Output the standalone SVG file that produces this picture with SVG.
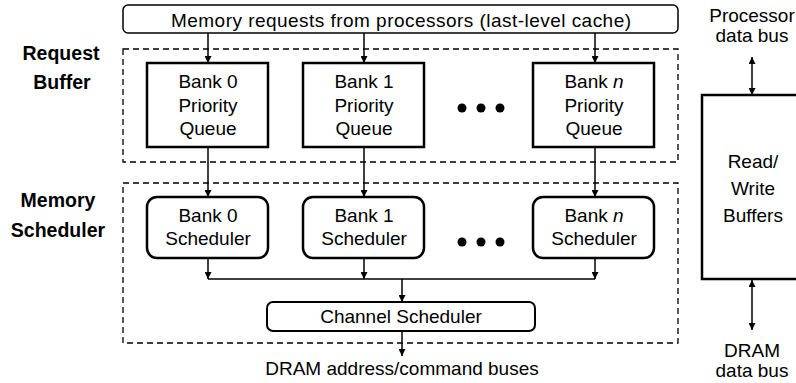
<svg xmlns="http://www.w3.org/2000/svg" width="796" height="383" viewBox="0 0 796 383">
<defs>
<marker id="ah" viewBox="0 0 10 10" refX="10" refY="5" markerWidth="7" markerHeight="7" orient="auto-start-reverse" markerUnits="userSpaceOnUse"><path d="M0,0 L10,5 L0,10 Z" fill="#000"/></marker>
<style>
text{font-family:"Liberation Sans",Arial,sans-serif;font-size:19px;fill:#000;text-anchor:middle}
.b{font-weight:bold;font-size:19.5px}
.dash{fill:none;stroke:#000;stroke-width:1.3;stroke-dasharray:6 4}
.box{fill:#fff;stroke:#000;stroke-width:2.5}
.thin{fill:#fff;stroke:#000;stroke-width:1.5}
.c{fill:none;stroke:#000;stroke-width:1.5}
.ca{fill:none;stroke:#000;stroke-width:1.5;marker-end:url(#ah)}
.cb{fill:none;stroke:#000;stroke-width:1.5;marker-end:url(#ah);marker-start:url(#ah)}
</style>
</defs>
<g id="labels">
<text class="b" x="61" y="60">Request</text>
<text class="b" x="62" y="89">Buffer</text>
<text class="b" x="58" y="207">Memory</text>
<text class="b" x="58" y="237">Scheduler</text>
</g>
<g id="request-buffer"><rect class="dash" x="123" y="49" width="555" height="113"/></g>
<g id="memory-scheduler"><rect class="dash" x="123" y="183" width="555" height="160"/></g>
<g id="connectors">
<path class="ca" d="M208,33 V63"/>
<path class="ca" d="M364,33 V63"/>
<path class="ca" d="M595,33 V63"/>
<path class="ca" d="M208,147 V197"/>
<path class="ca" d="M364,147 V197"/>
<path class="ca" d="M595,147 V197"/>
<path class="ca" d="M208,258 V279"/>
<path class="ca" d="M364,258 V279"/>
<path class="ca" d="M595,258 V279"/>
<path class="c" d="M208,279 H595"/>
<path class="ca" d="M402,279 V302"/>
<path class="ca" d="M402,331 V356"/>
<path class="cb" d="M752,57 V95"/>
<path class="cb" d="M752,280 V330"/>
</g>
<g id="top"><rect class="thin" x="123" y="5" width="555" height="28" rx="5"/><text x="401" y="27" textLength="460" lengthAdjust="spacing">Memory requests from processors (last-level cache)</text></g>
<g id="pq0"><rect class="box" x="147" y="63" width="121" height="84"/><text x="208" y="88">Bank 0</text><text x="208" y="112">Priority</text><text x="208" y="135">Queue</text></g>
<g id="pq1"><rect class="box" x="303" y="63" width="121" height="84"/><text x="364" y="88">Bank 1</text><text x="364" y="112">Priority</text><text x="364" y="135">Queue</text></g>
<g id="pqn"><rect class="box" x="533" y="63" width="121" height="84"/><text x="594" y="88">Bank <tspan font-style="italic">n</tspan></text><text x="594" y="112">Priority</text><text x="594" y="135">Queue</text></g>
<g id="dots1"><circle cx="462" cy="108" r="4.5"/><circle cx="481" cy="108" r="4.5"/><circle cx="500" cy="108" r="4.5"/></g>
<g id="s0"><rect class="box" x="147" y="197" width="121" height="61" rx="10"/><text x="208" y="222">Bank 0</text><text x="208" y="245">Scheduler</text></g>
<g id="s1"><rect class="box" x="303" y="197" width="121" height="61" rx="10"/><text x="364" y="222">Bank 1</text><text x="364" y="245">Scheduler</text></g>
<g id="sn"><rect class="box" x="533" y="197" width="121" height="61" rx="10"/><text x="594" y="222">Bank <tspan font-style="italic">n</tspan></text><text x="594" y="245">Scheduler</text></g>
<g id="dots2"><circle cx="462" cy="242" r="4.5"/><circle cx="481" cy="242" r="4.5"/><circle cx="500" cy="242" r="4.5"/></g>
<g id="channel"><rect class="box" style="stroke-width:2" x="267" y="302" width="268" height="29" rx="6"/><text x="401" y="323">Channel Scheduler</text></g>
<text x="402" y="375">DRAM address/command buses</text>
<g id="rw"><rect class="box" x="702" y="95" width="104" height="184"/><text x="753" y="168">Read/</text><text x="753" y="195">Write</text><text x="753" y="222">Buffers</text></g>
<g id="proc"><text x="752" y="22">Processor</text><text x="752" y="42">data bus</text></g>
<g id="dram"><text x="752" y="357">DRAM</text><text x="752" y="377">data bus</text></g>
</svg>
